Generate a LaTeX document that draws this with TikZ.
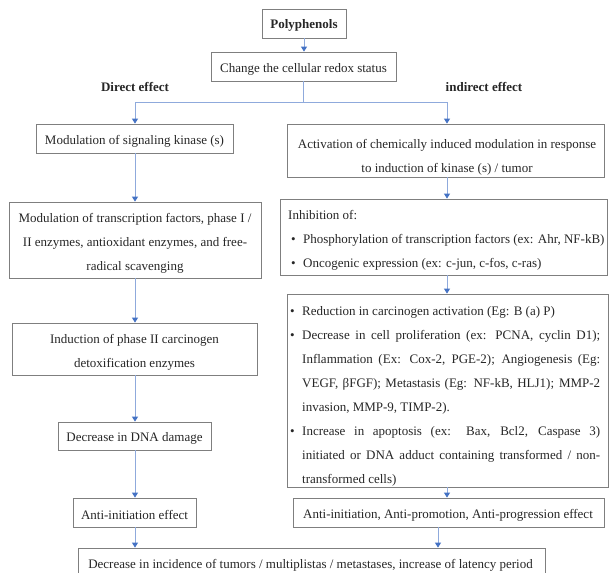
\documentclass[tikz,border=0pt]{standalone}
\usepackage{fontspec}
\setmainfont{Liberation Serif}
\usetikzlibrary{arrows.meta}
\definecolor{linecol}{HTML}{8FAADC}
\definecolor{headcol}{HTML}{4472C4}
\definecolor{boxcol}{HTML}{7F7F7F}
\definecolor{txtcol}{HTML}{262626}
\begin{document}
\begin{tikzpicture}[x=1pt,y=-1pt,
  box/.style={draw=boxcol, line width=0.8pt, inner sep=0pt},
  txt/.style={text=txtcol, inner sep=0pt, font=\fontsize{13}{24}\selectfont, align=center},
  conn/.style={draw=linecol, line width=1pt},
  arr/.style={conn, -{Triangle[length=5pt,width=6pt,color=headcol]}},
  lbl/.style={txt, font=\fontsize{13}{15}\selectfont\bfseries}]
\useasboundingbox (0,0) rectangle (609,572);
\clip (0,0) rectangle (609,572);

% ---------- boxes ----------
\node[box, minimum width=84pt,  minimum height=29pt]  (poly)   at (304,23.5) {};
\node[box, minimum width=185pt, minimum height=29pt]  (change) at (303.5,66.5) {};
\node[box, minimum width=197pt, minimum height=29pt]  (L1)     at (134.5,138.5) {};
\node[box, minimum width=252pt, minimum height=76pt]  (L2)     at (135,240) {};
\node[box, minimum width=245pt, minimum height=52pt]  (L3)     at (134.5,349) {};
\node[box, minimum width=153pt, minimum height=28pt]  (DNA)    at (134.5,436) {};
\node[box, minimum width=123pt, minimum height=29pt]  (AntiL)  at (134.5,512.5) {};
\node[box, minimum width=317pt, minimum height=53pt]  (R1)     at (445.5,150.5) {};
\node[box, minimum width=327pt, minimum height=76pt]  (R2)     at (443.5,237) {};
\node[box, minimum width=321pt, minimum height=193pt] (R3)     at (447.5,390.5) {};
\node[box, minimum width=311pt, minimum height=29pt]  (AntiR)  at (448.5,512.5) {};
\node[box, minimum width=467pt, minimum height=34pt]  (bot)    at (311.5,565) {};

% ---------- texts ----------
\node[lbl] (polyt) at (304,25) {Polyphenols};
\node[txt] (changet) at (303.5,69) {Change the cellular redox status};
\node[lbl] (direct) at (135,86.5) {Direct effect};
\node[lbl] (indirect) at (484,86.5) {indirect effect};

\node[txt] (L1t) at (134.5,141.5) {Modulation of signaling kinase (s)};
\node[txt] (L2t) at (135,243) {Modulation of transcription factors, phase I /\\
   II enzymes, antioxidant enzymes, and free-\\ radical scavenging};
\node[txt] (L3t) at (134.5,352.5) {Induction of phase II carcinogen\\ detoxification enzymes};
\node[txt] (DNAt) at (134.5,438.5) {Decrease in DNA damage};
\node[txt] (AntiLt) at (134.5,515) {Anti-initiation effect};

\node[txt] (R1t) at (447,157) {Activation of chemically induced modulation in response\\
   to induction of kinase (s) / tumor};
\node[txt, align=left, anchor=west] (R2t) at (288,240.5)
  {Inhibition of:\\
   \hspace*{3pt}\makebox[12pt][l]{•}Phosphorylation of transcription factors (ex: Ahr, NF-kB)\\
   \hspace*{3pt}\makebox[12pt][l]{•}Oncogenic expression (ex: c-jun, c-fos, c-ras)};
\node[txt, text width=310pt, align=justify, anchor=west] (R3t) at (290,396.5)
  {\parskip=0pt\hyphenpenalty=10000\exhyphenpenalty=10000\tolerance=10000
   \noindent\hangindent=12pt\hangafter=0\llap{\makebox[12pt][l]{•}}Reduction in carcinogen activation (Eg: B (a) P)\par
   \noindent\hangindent=12pt\hangafter=0\llap{\makebox[12pt][l]{•}}Decrease in cell proliferation (ex: PCNA, cyclin D1);\linebreak
   Inflammation (Ex: Cox-2, PGE-2); Angiogenesis (Eg:\linebreak
   VEGF, βFGF); Metastasis (Eg: NF-kB, HLJ1); MMP-2\linebreak
   invasion, MMP-9, TIMP-2).\par
   \noindent\hangindent=12pt\hangafter=0\llap{\makebox[12pt][l]{•}}Increase in apoptosis (ex: Bax, Bcl2, Caspase 3)\linebreak
   initiated or DNA adduct containing transformed / non-\linebreak
   transformed cells)\par};
\node[txt] (AntiRt) at (448,515) {Anti-initiation, Anti-promotion, Anti-progression effect};
\node[txt] (bott) at (310.5,565.5)
  {Decrease in incidence of tumors / multiplistas / metastases, increase of latency period};

% ---------- connectors ----------
\coordinate (split) at (303.5,103);
\coordinate (lx) at (135,0);
\coordinate (rx) at (447,0);
\coordinate (rb) at (438,0);

\draw[arr] (poly.south) -- (poly.south |- change.north);
\draw[conn] (change.south) -- (split);
\draw[arr] (split) -| (L1.north -| lx);
\draw[arr] (split) -| (R1.north -| rx);

\draw[arr] (L1.south -| lx) -- (L2.north -| lx);
\draw[arr] (L2.south -| lx) -- (L3.north -| lx);
\draw[arr] (L3.south -| lx) -- (DNA.north -| lx);
\draw[arr] (DNA.south -| lx) -- (AntiL.north -| lx);
\draw[arr] (AntiL.south -| lx) -- (bot.north -| lx);

\draw[arr] (R1.south -| rx) -- (R2.north -| rx);
\draw[arr] (R2.south -| rx) -- (R3.north -| rx);
\draw[arr] (R3.south -| rx) -- (AntiR.north -| rx);
\draw[arr] (AntiR.south -| rb) -- (bot.north -| rb);
\end{tikzpicture}
\end{document}
